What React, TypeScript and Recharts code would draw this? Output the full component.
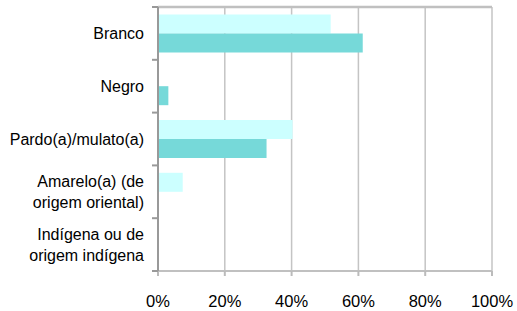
import { BarChart, Bar, XAxis, YAxis, CartesianGrid } from 'recharts';

const categories = [
  'Branco',
  'Negro',
  'Pardo(a)/mulato(a)',
  'Amarelo(a) (de origem oriental)',
  'Indígena ou de origem indígena',
];

// wrapped tick labels, one entry per category
const tickLines: string[][] = [
  ['Branco'],
  ['Negro'],
  ['Pardo(a)/mulato(a)'],
  ['Amarelo(a) (de', 'origem oriental)'],
  ['Indígena ou de', 'origem indígena'],
];

const serieClara = [51.7, 0, 40.3, 7.4, 0];
const serieEscura = [61.3, 3.1, 32.5, 0, 0];

const xTicks = [0, 20, 40, 60, 80, 100];

const data = categories.map((name, i) => ({
  name,
  clara: serieClara[i],
  escura: serieEscura[i],
}));

const FONT = '"Liberation Sans", Arial, sans-serif';
const BAND = 52.8;
const AXIS_X = 158;
const TOP = 7;

const YTick = (props: any) => {
  const { x, y, payload, index } = props;
  const lines = tickLines[index] || [payload.value];
  const n = lines.length;
  return (
    <g>
      <line x1={AXIS_X - 6} x2={AXIS_X} y1={y - BAND / 2} y2={y - BAND / 2} stroke="#999" strokeWidth={2} />
      {index === categories.length - 1 && (
        <line x1={AXIS_X - 6} x2={AXIS_X} y1={y + BAND / 2} y2={y + BAND / 2} stroke="#999" strokeWidth={2} />
      )}
      {lines.map((l, i) => (
        <text
          key={i}
          x={x - 6}
          y={y + 5.5 + (i - (n - 1) / 2) * 21}
          textAnchor="end"
          fontSize={16}
          fontFamily={FONT}
          fill="#000"
        >
          {l}
        </text>
      ))}
    </g>
  );
};

const XTick = (props: any) => {
  const { x, y, payload } = props;
  return (
    <g>
      <line x1={x} x2={x} y1={y - 8} y2={y - 3} stroke="#bbb" strokeWidth={2} />
      <text x={x} y={y + 28} textAnchor="middle" fontSize={16.5} fontFamily={FONT} fill="#000">
        {payload.value}%
      </text>
    </g>
  );
};

export default function App() {
  return (
    <div style={{ position: 'absolute', left: 0, top: 0, background: '#fff' }}>
      <BarChart
        width={517}
        height={311}
        data={data}
        layout="vertical"
        margin={{ top: TOP, right: 25, bottom: 0, left: 0 }}
        barCategoryGap="14%"
        barGap={0}
      >
        <CartesianGrid horizontal={false} stroke="#c4c4c4" strokeWidth={1.5} />
        {/* plot area top border */}
        <CartesianGrid vertical={false} horizontalPoints={[TOP]} stroke="#c0c0c0" strokeWidth={2.5} />
        <XAxis
          type="number"
          domain={[0, 100]}
          ticks={xTicks}
          axisLine={{ stroke: '#c0c0c0', strokeWidth: 2 }}
          tickLine={false}
          tick={<XTick />}
          height={40}
          interval={0}
        />
        <YAxis
          type="category"
          dataKey="name"
          width={158}
          axisLine={{ stroke: '#999', strokeWidth: 2 }}
          tickLine={false}
          tick={<YTick />}
          interval={0}
        />
        <Bar dataKey="clara" fill="#ccffff" isAnimationActive={false} />
        <Bar dataKey="escura" fill="#76d9d9" isAnimationActive={false} />
      </BarChart>
    </div>
  );
}
